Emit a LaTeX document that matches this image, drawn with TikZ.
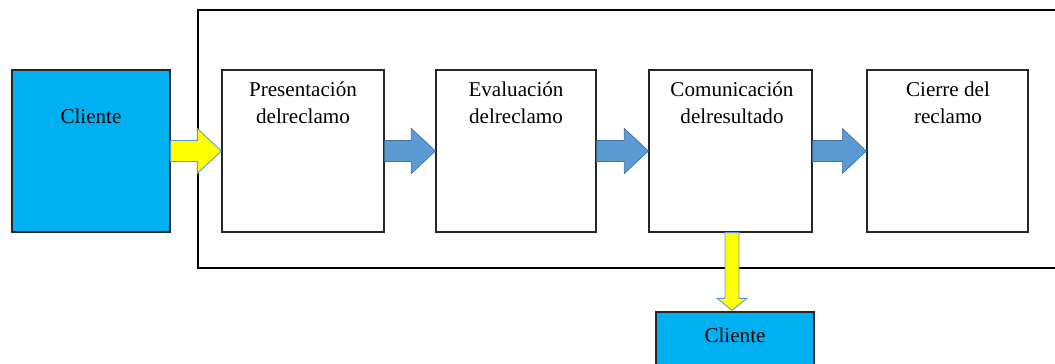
\documentclass[tikz,border=0pt]{standalone}
\usepackage{fontspec}
\setmainfont{Liberation Serif}
\usetikzlibrary{calc}
\definecolor{clientblue}{HTML}{00B0F0}
\definecolor{flowblue}{HTML}{5B9BD5}
\definecolor{flowedge}{HTML}{41719C}
\definecolor{signyellow}{HTML}{FFFF00}
\begin{document}
\begin{tikzpicture}[x=0.025cm,y=-0.025cm,
  stagebox/.style={draw=black!85,line width=0.9pt,fill=white,minimum height=4.05cm,inner sep=0pt},
  clientbox/.style={stagebox,fill=clientblue},
  caption/.style={font=\fontsize{15}{18.5}\selectfont,align=center,inner sep=0pt,anchor=base},
  bluearrow/.style={fill=flowblue,draw=flowedge,line width=0.5pt,line join=miter},
  yellowarrow/.style={fill=signyellow,draw=flowblue,line width=0.6pt,line join=miter}]
\clip (0,0) rectangle (1055,363);
\fill[white] (0,0) rectangle (1055,363);

% process frame, open to the right
\draw[line width=0.9pt] (1070,10) -- (198,10) -- (198,268) -- (1070,268);

% boxes
\node[clientbox,minimum width=3.95cm] (c1) at (91,151) {};
\node[stagebox,minimum width=4.05cm] (s1) at (303,151) {};
\node[stagebox,minimum width=4.0cm] (s2) at (516,151) {};
\node[stagebox,minimum width=4.075cm] (s3) at (730.5,151) {};
\node[stagebox,minimum width=4.025cm] (s4) at (947.5,151) {};
\node[clientbox,minimum width=3.95cm,minimum height=2.2cm] (c2) at (735,356) {};

% labels (the base anchor sits on the last line)
\node[caption] (t0) at (91,123) {Cliente};
\node[caption] (t1) at (303,123) {Presentación\\delreclamo};
\node[caption] (t2) at (516,123) {Evaluación\\delreclamo};
\node[caption] (t3) at (732,123) {Comunicación\\delresultado};
\node[caption] (t4) at (948,123) {Cierre del\\reclamo};
\node[caption] (t5) at (735,342) {Cliente};

% block arrows between stages
\newcommand{\blockarrow}[3]{%
  \draw[#1] ($(#2.east)+(0,-10.5)$) -- ($(#3.west)+(-24,-10.5)$) -- ($(#3.west)+(-24,-22.5)$)
    -- (#3.west) -- ($(#3.west)+(-24,22.5)$) -- ($(#3.west)+(-24,10.5)$)
    -- ($(#2.east)+(0,10.5)$) -- cycle;}
\blockarrow{yellowarrow}{c1}{s1}
\blockarrow{bluearrow}{s1}{s2}
\blockarrow{bluearrow}{s2}{s3}
\blockarrow{bluearrow}{s3}{s4}

% result sent back to the client
\coordinate (d0) at ($(s3.south)+(1.5,0)$);
\coordinate (d1) at (d0 |- c2.north);
\draw[yellowarrow] ($(d0)+(-7,0)$) -- ($(d1)+(-7,-13)$) -- ($(d1)+(-15,-13)$) -- ($(d1)+(0,-1)$)
  -- ($(d1)+(15,-13)$) -- ($(d1)+(7,-13)$) -- ($(d0)+(7,0)$) -- cycle;
\end{tikzpicture}
\end{document}
